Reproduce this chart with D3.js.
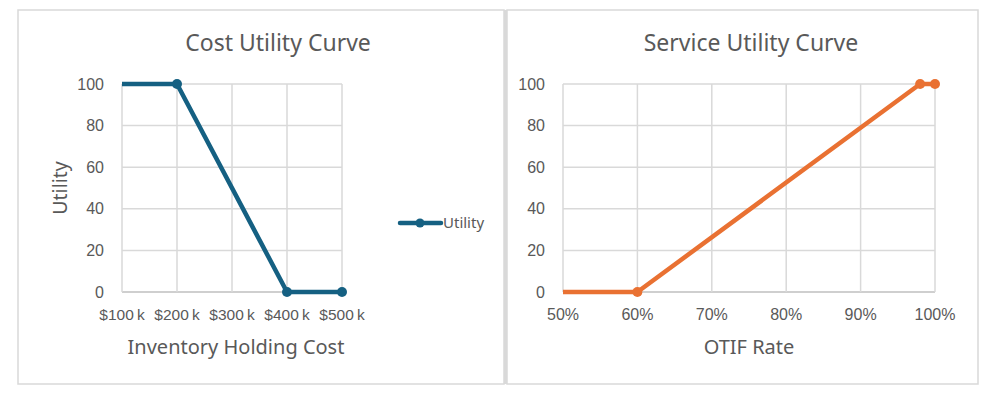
<!DOCTYPE html>
<html><head><meta charset="utf-8">
<script src="https://cdn.jsdelivr.net/npm/d3@7"></script>
<style>body{margin:0;background:#fff;}svg{display:block;}</style>
</head><body><svg id="c" width="989" height="393"></svg>
<script>
// Cost utility data (first point lies left of the axis and is clipped)
const costX = [0, 200, 400, 500];          // $k
const costUtility = [100, 100, 0, 0];
const costTicks = [100, 200, 300, 400, 500];
// Service utility data
const otifX = [0, 60, 98, 100];             // %
const serviceUtility = [0, 0, 100, 100];
const otifTicks = [50, 60, 70, 80, 90, 100];
const yTicks = [0, 20, 40, 60, 80, 100];

const svg = d3.select("#c");
const tickFont = "'Liberation Sans', Arial, sans-serif";
const titleFont = "'Noto Sans', 'Open Sans', sans-serif";
const textCol = "#595959";
const gridCol = "#d9d9d9";

// panel borders
svg.append("rect").attr("x",18).attr("y",10).attr("width",486).attr("height",374)
  .attr("fill","none").attr("stroke",gridCol).attr("stroke-width",1.5);
svg.append("rect").attr("x",507).attr("y",10).attr("width",471).attr("height",374)
  .attr("fill","none").attr("stroke",gridCol).attr("stroke-width",1.5);
svg.append("rect").attr("x",504).attr("y",10).attr("width",3).attr("height",374).attr("fill","#d9d9d9");

function panel(opt){
  const x = d3.scaleLinear().domain(opt.xDomain).range([opt.x0, opt.x1]);
  const y = d3.scaleLinear().domain([0,100]).range([292, 84]);
  const g = svg.append("g");
  const clipId = opt.id + "clip";
  g.append("clipPath").attr("id", clipId).append("rect")
    .attr("x", opt.x0).attr("y", 60).attr("width", opt.x1 - opt.x0 + 20).attr("height", 260);
  // horizontal grid
  g.selectAll(".hg").data(yTicks).join("line")
    .attr("x1", opt.x0).attr("x2", opt.x1).attr("y1", d=>y(d)).attr("y2", d=>y(d))
    .attr("stroke", d=> d===0 ? "#bfbfbf" : gridCol).attr("stroke-width", 1.5);
  // vertical grid
  g.selectAll(".vg").data(opt.xTicks).join("line")
    .attr("x1", d=>x(d)).attr("x2", d=>x(d)).attr("y1", y(0)).attr("y2", y(100))
    .attr("stroke", gridCol).attr("stroke-width", 1.5);
  // y tick labels
  g.selectAll(".yl").data(yTicks).join("text")
    .attr("x", opt.x0 - 18).attr("y", d=>y(d)).attr("dy","0.35em")
    .attr("text-anchor","end").attr("font-family",tickFont).attr("font-size",16)
    .attr("fill",textCol).text(d=>d);
  // x tick labels
  g.selectAll(".xl").data(opt.xTicks).join("text")
    .attr("x", d=>x(d)).attr("y", 320)
    .attr("text-anchor","middle").attr("font-family",tickFont).attr("font-size",opt.xTickSize)
    .attr("fill",textCol).text(opt.fmt);
  // line
  const pts = opt.xs.map((v,i)=>[v, opt.ys[i]]);
  const lg = g.append("g").attr("clip-path", `url(#${clipId})`);
  lg.append("path").datum(pts)
    .attr("d", d3.line().x(d=>x(d[0])).y(d=>y(d[1])))
    .attr("fill","none").attr("stroke",opt.color).attr("stroke-width",4.5)
    .attr("stroke-linejoin","round");
  lg.selectAll("circle").data(pts.filter(d=>d[0]>=opt.xDomain[0])).join("circle")
    .attr("cx", d=>x(d[0])).attr("cy", d=>y(d[1])).attr("r",5).attr("fill",opt.color);
  // title
  g.append("text").attr("x", opt.titleX).attr("y", 51).attr("text-anchor","middle")
    .attr("font-family",titleFont).attr("font-size",23).attr("fill",textCol).text(opt.title);
  g.append("text").attr("x", opt.xTitleX).attr("y", 354).attr("text-anchor","middle")
    .attr("font-family",titleFont).attr("font-size",20).attr("fill",textCol).text(opt.xTitle);
  return {x,y};
}

panel({id:"cost", xDomain:[100,500], x0:122, x1:342, xTicks:costTicks,
  xs:costX, ys:costUtility, color:"#156082", xTickSize:15.5,
  fmt:d=>"$"+d+"\u2009k", title:"Cost Utility Curve", titleX:278,
  xTitle:"Inventory Holding Cost", xTitleX:236});

panel({id:"svc", xDomain:[50,100], x0:563, x1:935, xTicks:otifTicks,
  xs:otifX, ys:serviceUtility, color:"#e97132", xTickSize:16,
  fmt:d=>d+"%", title:"Service Utility Curve", titleX:751,
  xTitle:"OTIF Rate", xTitleX:749});

// y axis title (left chart)
svg.append("text").attr("transform","translate(67,188) rotate(-90)")
  .attr("text-anchor","middle").attr("font-family",titleFont).attr("font-size",19.5)
  .attr("fill",textCol).text("Utility");

// legend
const lgd = svg.append("g");
lgd.append("line").attr("x1",400).attr("x2",441).attr("y1",223).attr("y2",223)
  .attr("stroke","#156082").attr("stroke-width",4.5).attr("stroke-linecap","round");
lgd.append("circle").attr("cx",420).attr("cy",223).attr("r",4.5).attr("fill","#156082");
lgd.append("text").attr("x",443).attr("y",223).attr("dy","0.35em")
  .attr("font-family",titleFont).attr("font-size",15).attr("fill",textCol).text("Utility");
</script></body></html>
